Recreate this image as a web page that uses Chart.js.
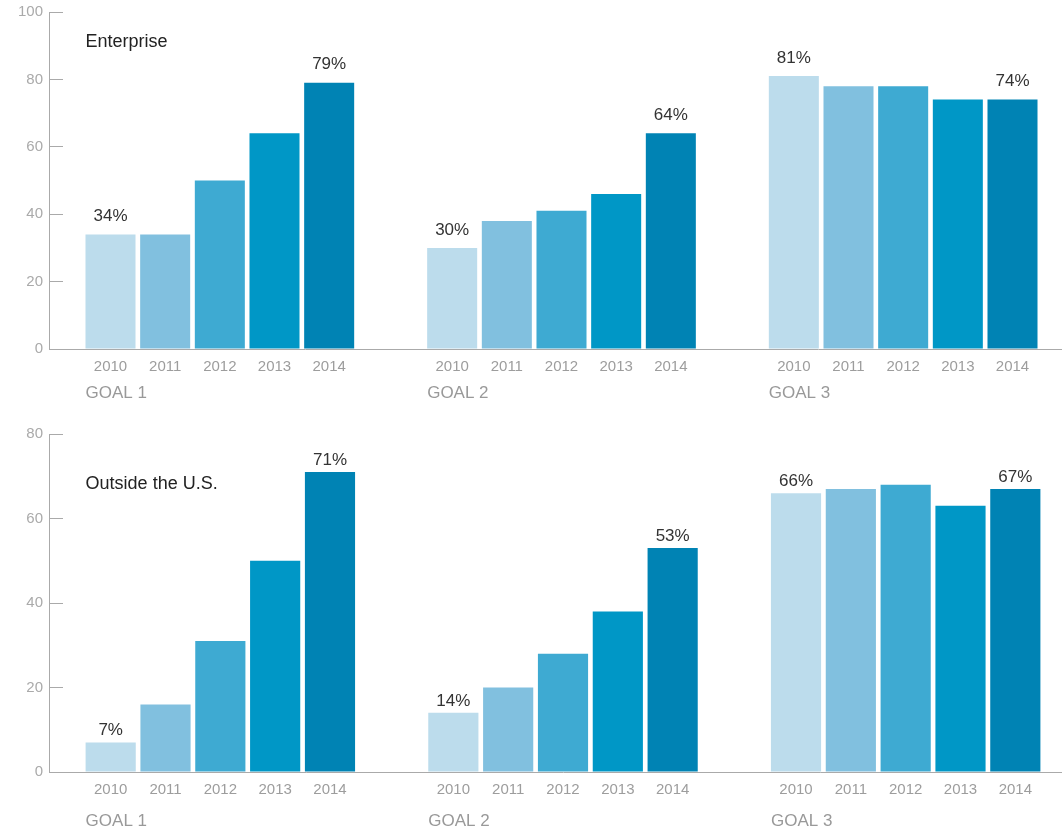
<!DOCTYPE html>
<html>
<head>
<meta charset="utf-8">
<script src="https://cdn.jsdelivr.net/npm/chart.js@4.4.1/dist/chart.umd.min.js"></script>
<style>
  html, body { margin: 0; padding: 0; background: #fff; overflow: hidden; }
  .box { position: absolute; left: 0; }
  #topBox { top: -17px; width: 1074px; height: 440px; }
  #botBox { top: 405px; width: 1077px; height: 435px; }
</style>
</head>
<body>
<div class="box" id="topBox"><canvas id="chartTop"></canvas></div>
<div class="box" id="botBox"><canvas id="chartBottom"></canvas></div>
<script>
/* globals Chart:false */

// data
var goals = ['GOAL 1', 'GOAL 2', 'GOAL 3'];
var years = ['2010', '2011', '2012', '2013', '2014'];
var yearColors = ['#bcdcec', '#81c0df', '#3eaad2', '#0097c6', '#0083b4'];

// Enterprise, one array per year: [goal1, goal2, goal3]
var enterprise2010 = [34, 30, 81];
var enterprise2011 = [34, 38, 78];
var enterprise2012 = [50, 41, 78];
var enterprise2013 = [64, 46, 74];
var enterprise2014 = [79, 64, 74];

// Outside the U.S.
var outside2010 = [7, 14, 66];
var outside2011 = [16, 20, 67];
var outside2012 = [31, 28, 68];
var outside2013 = [50, 38, 63];
var outside2014 = [71, 53, 67];

var FONT = "'Liberation Sans', Arial, sans-serif";

// draws the year under each bar, goal names, % labels on first/last year, panel title
var barLabels = {
    id: 'barLabels',
    afterDatasetsDraw: function (chart, args, opts) {
        var ctx = chart.ctx;
        var base = chart.chartArea.bottom;
        var n = chart.data.datasets.length;
        ctx.save();
        chart.data.datasets.forEach(function (ds, i) {
            var meta = chart.getDatasetMeta(i);
            meta.data.forEach(function (bar, j) {
                ctx.font = '15px ' + FONT;
                ctx.fillStyle = '#9d9d9d';
                ctx.textAlign = 'center';
                ctx.textBaseline = 'middle';
                ctx.fillText(ds.label, bar.x, base + 18);

                if (i === 0 || i === n - 1) {
                    ctx.font = '17px ' + FONT;
                    ctx.fillStyle = '#333';
                    ctx.fillText(ds.data[j] + '%', bar.x, bar.y - opts.gap);
                }
                if (i === 0) {
                    ctx.font = '17px ' + FONT;
                    ctx.fillStyle = '#999';
                    ctx.textAlign = 'left';
                    ctx.fillText(chart.data.labels[j], bar.x - bar.width / 2, base + opts.goalY);
                }
            });
        });
        var first = chart.getDatasetMeta(0).data[0];
        ctx.font = '18px ' + FONT;
        ctx.fillStyle = '#222';
        ctx.textAlign = 'left';
        ctx.textBaseline = 'middle';
        ctx.fillText(opts.title, first.x - first.width / 2, chart.chartArea.top + opts.titleY);
        ctx.restore();
    }
};

function createChart(ctx, series, yMax, labelOpts, pad) {
    'use strict'

    var datasets = years.map(function (year, i) {
        return {
            label: year,
            data: series[i],
            backgroundColor: yearColors[i],
            borderWidth: 0,
            categoryPercentage: 0.8,
            barPercentage: 0.915
        };
    });

    return new Chart(ctx, {
        type: 'bar',
        data: { labels: goals, datasets: datasets },
        plugins: [barLabels],
        options: {
            responsive: true,
            maintainAspectRatio: false,
            animation: false,
            layout: { padding: pad },
            plugins: {
                legend: { display: false },
                tooltip: { enabled: false },
                barLabels: labelOpts
            },
            scales: {
                x: {
                    grid: { display: false },
                    ticks: { display: false },
                    border: { color: '#aaa', width: 1 }
                },
                y: {
                    min: 0,
                    max: yMax,
                    afterFit: function (s) { s.width = 49; },
                    ticks: {
                        stepSize: 20,
                        padding: 20,
                        color: '#aaa',
                        font: { family: FONT, size: 15 }
                    },
                    grid: {
                        drawOnChartArea: false,
                        tickLength: -14,
                        color: '#aaa'
                    },
                    border: { color: '#aaa', width: 1 }
                }
            }
        }
    });
}

createChart(document.getElementById('chartTop'),
    [enterprise2010, enterprise2011, enterprise2012, enterprise2013, enterprise2014],
    100, { title: 'Enterprise', titleY: 30, gap: 18, goalY: 44 },
    { top: 2, bottom: 66, left: 0, right: 0 });

createChart(document.getElementById('chartBottom'),
    [outside2010, outside2011, outside2012, outside2013, outside2014],
    80, { title: 'Outside the U.S.', titleY: 50, gap: 12, goalY: 49 },
    { top: 2, bottom: 60, left: 0, right: 0 });
</script>
</body>
</html>
